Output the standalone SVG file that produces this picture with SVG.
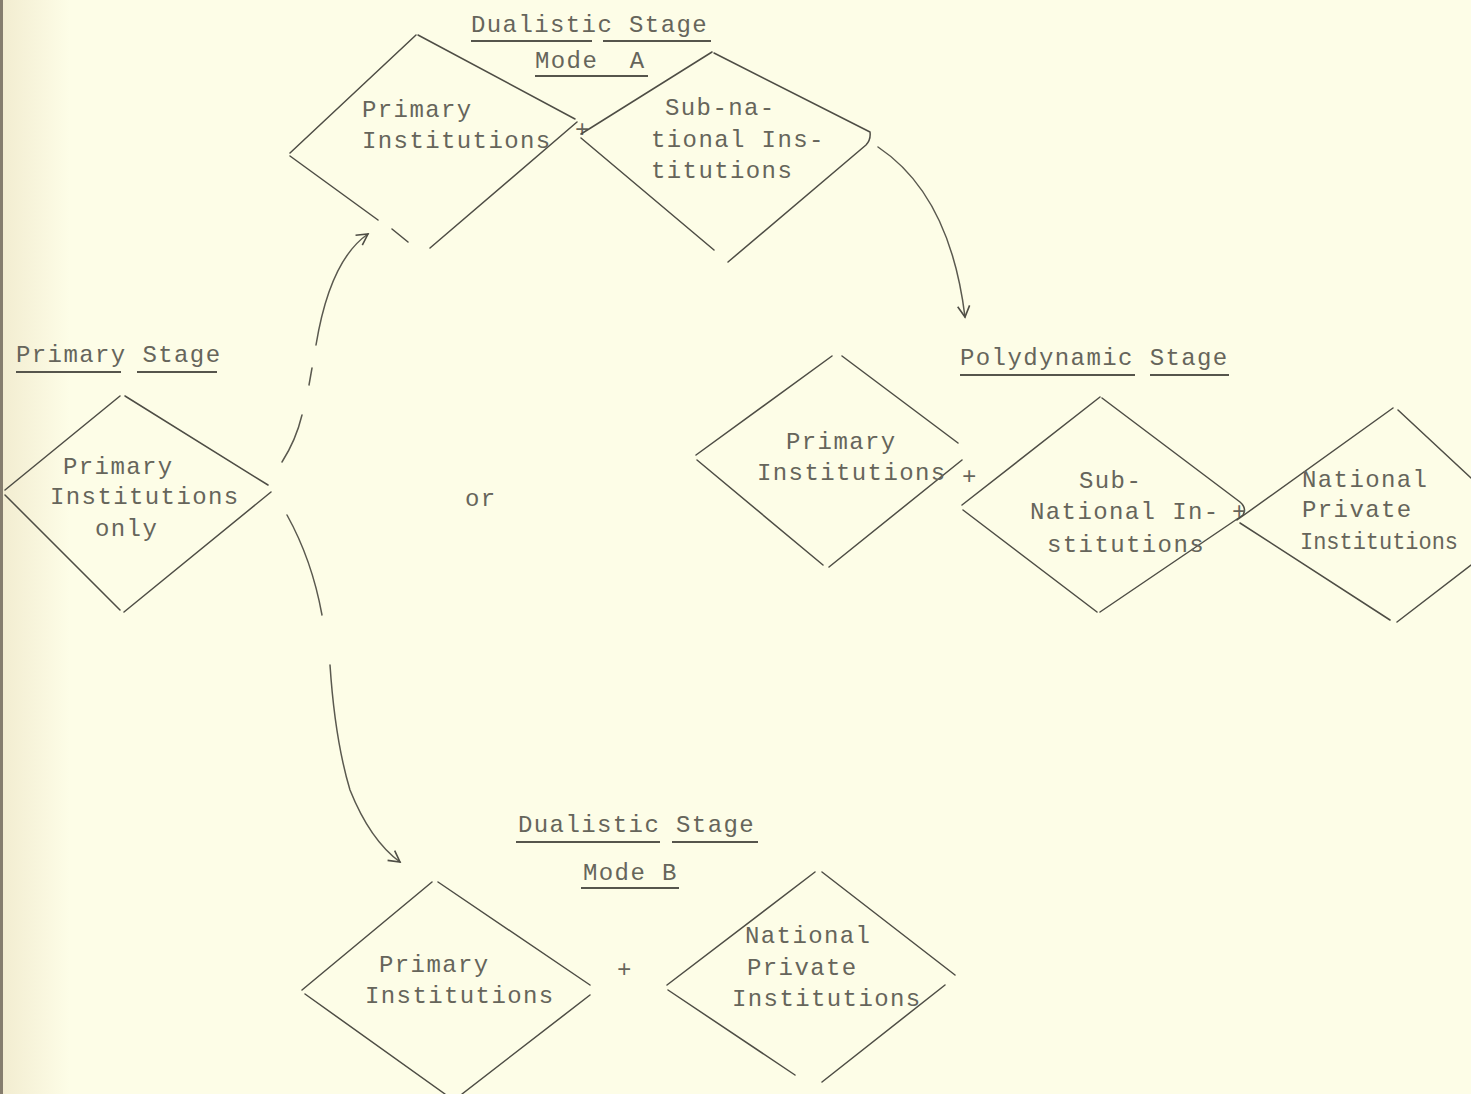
<svg xmlns="http://www.w3.org/2000/svg" width="1471" height="1094" viewBox="0 0 1471 1094">
<defs>
<linearGradient id="edge" x1="0" y1="0" x2="1" y2="0">
<stop offset="0" stop-color="#F2ECD0"/>
<stop offset="1" stop-color="#FDFDE7"/>
</linearGradient>
<marker id="arr" viewBox="-12 -8 14 16" markerWidth="14" markerHeight="16" refX="0" refY="0" orient="auto" markerUnits="userSpaceOnUse">
<path d="M-11,-6 L0,0 L-11,6" fill="none" stroke="#4e4d45" stroke-width="1.6"/>
</marker>
<style>
.t{font-family:"Liberation Mono","DejaVu Sans Mono",monospace;font-size:24px;letter-spacing:1.4px;fill:#66655b}
.p{font-family:"Liberation Mono","DejaVu Sans Mono",monospace;font-size:24px;fill:#66655b}
.d{fill:none;stroke:#4e4d45;stroke-width:1.5;stroke-linecap:round;stroke-linejoin:round}
.u{stroke:#56554c;stroke-width:2}
.c{fill:none;stroke:#5a594f;stroke-width:1.5;stroke-linecap:round}
</style>
</defs>
<rect x="0" y="0" width="1471" height="1094" fill="#FDFDE7"/>
<rect x="0" y="0" width="70" height="1094" fill="url(#edge)"/>
<rect x="0" y="0" width="3" height="1094" fill="#857d6e"/>

<g id="primary-stage">
<text class="t" x="16" y="362">Primary Stage</text>
<line class="u" x1="16" y1="372" x2="121" y2="372"/>
<line class="u" x1="137" y1="372" x2="217" y2="372"/>
<path class="d" d="M5,490 L120,396 M125,396 L268,485 M271,492 L124,612 M5,495 L120,610"/>
<text class="t" x="63" y="474">Primary</text>
<text class="t" x="50" y="504">Institutions</text>
<text class="t" x="95" y="536">only</text>
</g>

<g id="or-label">
<text class="t" x="465" y="506">or</text>
</g>

<g id="dualistic-a">
<text class="t" x="471" y="32">Dualistic Stage</text>
<line class="u" x1="471" y1="41" x2="592" y2="41"/>
<line class="u" x1="603" y1="41" x2="711" y2="41"/>
<text class="t" x="535" y="68" xml:space="preserve">Mode  A</text>
<line class="u" x1="535" y1="76" x2="648" y2="76"/>
</g>

<g id="a-primary">
<path class="d" d="M290,153 L416,35 M418,35 L575,119 M577,122 L430,248 M290,156 L378,220 M392,229 L408,242"/>
<text class="t" x="362" y="117">Primary</text>
<text class="t" x="362" y="148">Institutions</text>
</g>
<text class="p" x="575" y="137" font-size="20">+</text>

<g id="a-subnational">
<path class="d" d="M581,134 L712,52 M714,53 L870,132 Q871,140 866,145 L728,262 M581,138 L714,250"/>
<text class="t" x="665" y="115">Sub-na-</text>
<text class="t" x="651" y="147">tional Ins-</text>
<text class="t" x="651" y="178">titutions</text>
</g>

<g id="polydynamic">
<text class="t" x="960" y="365">Polydynamic Stage</text>
<line class="u" x1="960" y1="375" x2="1135" y2="375"/>
<line class="u" x1="1150" y1="375" x2="1229" y2="375"/>
</g>

<g id="p-primary">
<path class="d" d="M696,455 L832,356 M842,356 L958,443 M962,460 L829,567 M697,460 L823,565"/>
<text class="t" x="786" y="449">Primary</text>
<text class="t" x="757" y="480">Institutions</text>
</g>
<text class="p" x="962" y="484" font-size="16">+</text>

<g id="p-subnational">
<path class="d" d="M962,505 L1100,397 M1102,398 L1240,502 Q1247,508 1243,515 L1100,612 M963,510 L1097,612"/>
<text class="t" x="1079" y="488">Sub-</text>
<text class="t" x="1030" y="519">National In-</text>
<text class="t" x="1047" y="552">stitutions</text>
</g>
<text class="p" x="1232" y="519" font-size="22">+</text>

<g id="p-national">
<path class="d" d="M1237,520 L1393,408 M1398,410 L1471,478 M1471,565 L1397,622 M1240,523 L1390,620"/>
<text class="t" x="1302" y="487">National</text>
<text class="t" x="1302" y="517">Private</text>
<text class="t" x="1300" y="549" textLength="158" lengthAdjust="spacingAndGlyphs" style="letter-spacing:0">Institutions</text>
</g>

<g id="dualistic-b">
<text class="t" x="518" y="832">Dualistic Stage</text>
<line class="u" x1="516" y1="842" x2="660" y2="842"/>
<line class="u" x1="672" y1="842" x2="758" y2="842"/>
<text class="t" x="583" y="880">Mode B</text>
<line class="u" x1="581" y1="888" x2="679" y2="888"/>
</g>

<g id="b-primary">
<path class="d" d="M302,990 L432,882 M438,882 L590,985 M590,995 L462,1094 M305,994 L445,1094"/>
<text class="t" x="379" y="972">Primary</text>
<text class="t" x="365" y="1003">Institutions</text>
</g>
<text class="p" x="617" y="977">+</text>

<g id="b-national">
<path class="d" d="M667,985 L815,872 M822,872 L955,975 M945,985 L822,1082 M668,990 L795,1075"/>
<text class="t" x="745" y="943">National</text>
<text class="t" x="747" y="975">Private</text>
<text class="t" x="732" y="1006">Institutions</text>
</g>

<g id="connectors">
<path class="c" d="M282,462 Q296,440 302,415"/>
<path class="c" d="M309,385 L312,368"/>
<path class="c" d="M316,345 Q330,260 368,234" marker-end="url(#arr)"/>
<path class="c" d="M287,515 Q312,560 322,615"/>
<path class="c" d="M330,665 Q335,740 350,790 Q370,840 400,862" marker-end="url(#arr)"/>
<path class="c" d="M878,147 Q950,195 965,317" marker-end="url(#arr)"/>
</g>
</svg>
